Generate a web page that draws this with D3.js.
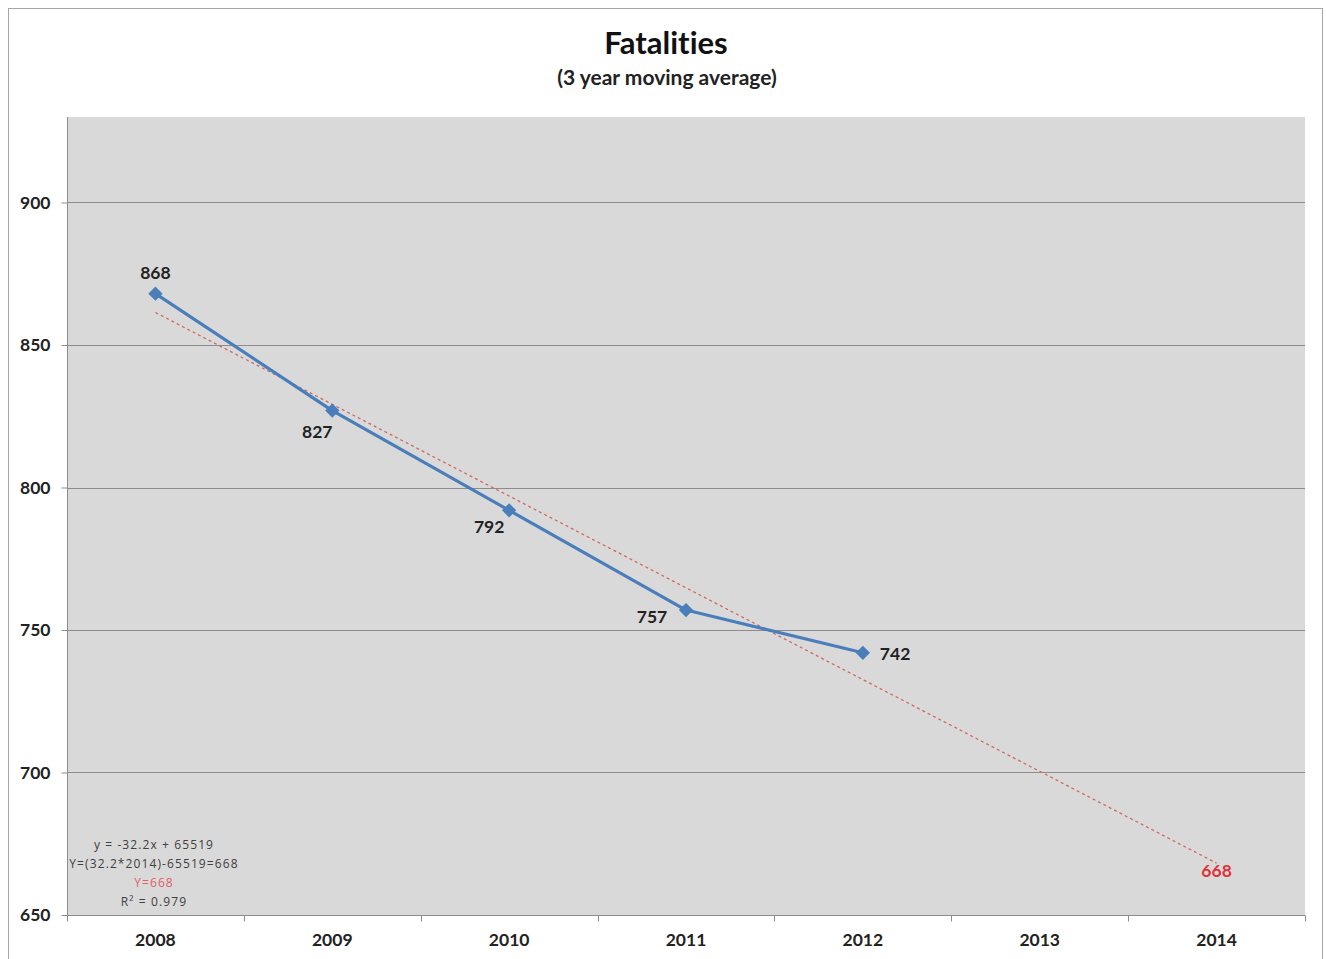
<!DOCTYPE html>
<html>
<head>
<meta charset="utf-8">
<script src="https://cdn.jsdelivr.net/npm/d3@7"></script>
<style>
  html, body { margin: 0; padding: 0; background: #fff; }
  svg { display: block; font-family: Lato, "Open Sans", "Liberation Sans", sans-serif; font-variant-ligatures: none; }
</style>
</head>
<body>
<svg id="chart" width="1326" height="959"></svg>
<script>
// Fatalities, 3 year moving average, with linear trend projected to 2014
const years = ["2008", "2009", "2010", "2011", "2012", "2013", "2014"];
const dataYears = ["2008", "2009", "2010", "2011", "2012"];
const fatalities = [868, 827, 792, 757, 742];
const yTicks = [650, 700, 750, 800, 850, 900];
const trendSlope = -32.2;
const trendIntercept = 65519;
const trendYears = ["2008", "2014"];
const projectedLabel = 668;
const equationLines = [
  "y = -32.2x + 65519",
  "Y=(32.2*2014)-65519=668",
  "Y=668",
  "R\u00B2 = 0.979"
];

const svg = d3.select("#chart");
const plot = { left: 67, right: 1305, top: 117, bottom: 915 };
const labelSize = 17.5;

const x = d3.scaleBand().domain(years).range([plot.left, plot.right]).paddingInner(0).paddingOuter(0);
const y = d3.scaleLinear().domain([650, 930]).range([plot.bottom, plot.top]);
const cx = d => x(d) + x.bandwidth() / 2;

// outer chart frame
svg.append("rect")
  .attr("x", 8.5).attr("y", 8.5).attr("width", 1314).attr("height", 960)
  .attr("fill", "#fff").attr("stroke", "#a6a6a6").attr("stroke-width", 1);

// plot area
svg.append("rect")
  .attr("x", plot.left).attr("y", plot.top)
  .attr("width", plot.right - plot.left).attr("height", plot.bottom - plot.top)
  .attr("fill", "#d9d9d9");

// horizontal gridlines
svg.append("g").selectAll("line").data(yTicks.filter(v => v > 650)).join("line")
  .attr("x1", plot.left).attr("x2", plot.right)
  .attr("y1", d => Math.round(y(d)) + 0.5).attr("y2", d => Math.round(y(d)) + 0.5)
  .attr("stroke", "#8c8c8c").attr("stroke-width", 1);

// y axis
const yAxis = svg.append("g")
  .attr("transform", `translate(${plot.left + 0.5},0)`)
  .call(d3.axisLeft(y).tickValues(yTicks).tickSize(6).tickPadding(11));
yAxis.select(".domain").attr("stroke", "#8c8c8c").attr("d", `M-0,${plot.top}V${plot.bottom}`);
yAxis.selectAll(".tick line").attr("stroke", "#8c8c8c");
yAxis.selectAll(".tick text")
  .attr("font-size", labelSize).attr("font-weight", "bold").attr("fill", "#222")
  .attr("font-family", "Lato, sans-serif");

// x axis with ticks at category boundaries
const xAxis = svg.append("g")
  .attr("transform", `translate(0,${plot.bottom + 0.5})`);
xAxis.append("line")
  .attr("x1", plot.left).attr("x2", plot.right)
  .attr("stroke", "#8c8c8c");
xAxis.selectAll("line.tk").data(years.concat(["end"])).join("line")
  .attr("class", "tk")
  .attr("x1", (d, i) => Math.round(plot.left + i * x.bandwidth()) + 0.5)
  .attr("x2", (d, i) => Math.round(plot.left + i * x.bandwidth()) + 0.5)
  .attr("y1", 0).attr("y2", 6)
  .attr("stroke", "#8c8c8c");
xAxis.selectAll("text").data(years).join("text")
  .attr("x", d => cx(d)).attr("y", 30)
  .attr("text-anchor", "middle")
  .attr("font-size", labelSize).attr("font-weight", "bold").attr("fill", "#222")
  .text(d => d);

// linear trend line (dashed)
const trendPts = trendYears.map(t => ({ t, v: trendSlope * (+t) + trendIntercept }));
svg.append("path")
  .datum(trendPts)
  .attr("d", d3.line().x(d => cx(d.t)).y(d => y(d.v)))
  .attr("fill", "none").attr("stroke", "#cf6a62").attr("stroke-width", 1.3)
  .attr("stroke-dasharray", "3,3");

// data series
const series = dataYears.map((t, i) => ({ t, v: fatalities[i] }));
svg.append("path")
  .datum(series)
  .attr("d", d3.line().x(d => cx(d.t)).y(d => y(d.v)))
  .attr("fill", "none").attr("stroke", "#4a7ebb").attr("stroke-width", 3.2)
  .attr("stroke-linejoin", "round");

svg.append("g").selectAll("path").data(series).join("path")
  .attr("d", d3.symbol(d3.symbolDiamond2 || d3.symbolDiamond, 130))
  .attr("transform", d => `translate(${cx(d.t)},${y(d.v)})`)
  .attr("fill", "#4a7ebb");

// value labels
const labelOffsets = [
  { dx: 0, dy: -15, anchor: "middle" },
  { dx: -15, dy: 27, anchor: "middle" },
  { dx: -20, dy: 23, anchor: "middle" },
  { dx: -34, dy: 13, anchor: "middle" },
  { dx: 17, dy: 7, anchor: "start" }
];
svg.append("g").selectAll("text").data(series).join("text")
  .attr("x", (d, i) => cx(d.t) + labelOffsets[i].dx)
  .attr("y", (d, i) => y(d.v) + labelOffsets[i].dy)
  .attr("text-anchor", (d, i) => labelOffsets[i].anchor)
  .attr("font-size", labelSize).attr("font-weight", "bold").attr("fill", "#222")
  .text(d => d.v);

// projected value at 2014
svg.append("text")
  .attr("x", cx("2014")).attr("y", y(projectedLabel) + 13)
  .attr("text-anchor", "middle")
  .attr("font-size", labelSize).attr("font-weight", "bold").attr("fill", "#e0313a")
  .text(projectedLabel);

// trend equation block
svg.append("g").selectAll("text").data(equationLines).join("text")
  .attr("x", 154).attr("y", (d, i) => 849 + i * 19)
  .attr("text-anchor", "middle")
  .attr("font-size", 12)
  .attr("letter-spacing", 1.1)
  .attr("fill", (d, i) => i === 2 ? "#e0606a" : "#404040")
  .attr("font-family", "'Open Sans', sans-serif")
  .text(d => d);

// titles
svg.append("text")
  .attr("x", 666).attr("y", 54)
  .attr("text-anchor", "middle")
  .attr("font-size", 31).attr("font-weight", "bold").attr("fill", "#111")
  .text("Fatalities");
svg.append("text")
  .attr("x", 667).attr("y", 85)
  .attr("text-anchor", "middle")
  .attr("font-size", 21).attr("font-weight", "bold").attr("fill", "#222")
  .text("(3 year moving average)");
</script>
</body>
</html>
